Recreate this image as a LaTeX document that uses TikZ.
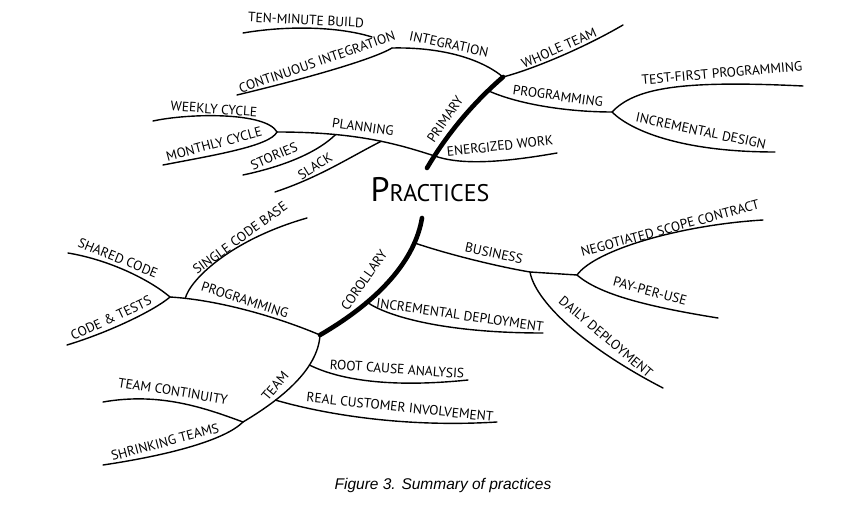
\documentclass[tikz,border=0pt]{standalone}
\usepackage{fontspec}
\setmainfont{PT Sans}
\newfontfamily\capfont{Liberation Sans}
\usetikzlibrary{calc}

\begin{document}
\begin{tikzpicture}[x=1pt,y=-1pt,line cap=round,font=\fontsize{13.5}{14}\selectfont,
  br/.style={line width=1.4pt},
  tr/.style={line width=4.6pt},
  l/.style={inner sep=0pt,anchor=center}]
  \useasboundingbox (0,0) rectangle (850,521);
  % primary side
  \draw[tr] (427,168) coordinate (pb) .. controls (447,134) and (473,103) .. (503,77) coordinate (pt)
    coordinate[pos=0.12] (pl0) coordinate[pos=0.12] (pe) coordinate[pos=0.83] (pp);
  \coordinate (ij) at (392,48);
  \coordinate (pj) at (612,112);
  \coordinate (plj) at (277,132);
  \draw[br] (pt) .. controls (480,58) and (440,47) .. (ij);
  \draw[br] (ij) .. controls (372,60) and (300,80) .. (237,95) coordinate (ci);
  \draw[br] (243,33) coordinate (tm1) .. controls (290,25) and (340,27) .. (372,37) coordinate (tm2);
  \draw[br] (pt) .. controls (530,70) and (580,50) .. (623,25) coordinate (wt);
  \draw[br] (pp) .. controls (520,105) and (570,112) .. (pj);
  \draw[br] (pj) .. controls (635,88) and (680,80) .. (803,86) coordinate (tf);
  \draw[br] (pj) .. controls (630,130) and (680,152) .. (775,152) coordinate (id);
  \draw[br] (pe) .. controls (460,165) and (500,163) .. (557,153) coordinate (ew);
  \draw[br] (pl0) .. controls (400,145) and (360,132) .. (plj)
    coordinate[pos=0.45] (kj) coordinate[pos=0.73] (sj);
  \draw[br] (153,121) coordinate (wc) .. controls (190,113) and (266,112) .. (plj);
  \draw[br] (plj) .. controls (270,146) and (215,155) .. (163,165) coordinate (mc);
  \draw[br] (sj) .. controls (320,150) and (290,165) .. (243,175) coordinate (st);
  \draw[br] (kj) .. controls (350,157) and (320,177) .. (275,192) coordinate (sl);
  % corollary side
  \draw[tr] (422,218) coordinate (ct) .. controls (415,260) and (380,300) .. (320,335) coordinate (cb)
    coordinate[pos=0.2] (cbz) coordinate[pos=0.7] (cid);
  \coordinate (dj) at (530,272);
  \coordinate (nsj) at (577,275);
  \coordinate (cpj) at (170,297);
  \coordinate (tj) at (243,422);
  \draw[br] (cbz) .. controls (450,255) and (500,267) .. (dj) -- (nsj);
  \draw[br] (dj) .. controls (535,300) and (580,345) .. (663,388) coordinate (dd);
  \draw[br] (nsj) .. controls (595,250) and (680,225) .. (763,220) coordinate (ns);
  \draw[br] (nsj) .. controls (600,295) and (650,307) .. (718,318) coordinate (pu);
  \draw[br] (cid) .. controls (385,315) and (440,333) .. (543,333) coordinate (ide);
  \draw[br] (cb) .. controls (280,318) and (220,300) .. (cpj) coordinate[pos=0.9] (scb);
  \draw[br] (68,253) coordinate (sc) .. controls (110,260) and (150,280) .. (cpj);
  \draw[br] (cpj) .. controls (155,310) and (110,332) .. (67,345) coordinate (ct2);
  \draw[br] (scb) .. controls (190,280) and (230,240) .. (307,218) coordinate (sb);
  \draw[br] (cb) .. controls (318,370) and (280,400) .. (tj) coordinate[pos=0.3] (rca) coordinate[pos=0.7] (rci);
  \draw[br] (rca) .. controls (340,380) and (390,388) .. (468,380) coordinate (ra);
  \draw[br] (rci) .. controls (320,413) and (400,428) .. (497,422) coordinate (rc);
  \draw[br] (103,402) coordinate (tc) .. controls (160,392) and (205,408) .. (tj);
  \draw[br] (tj) .. controls (225,440) and (170,455) .. (103,465) coordinate (sh);
  % labels
  \node[l,rotate=56] (prim) at (445,119) {PRIMARY};
  \node[l,rotate=-12] (integ) at (449,44) {INTEGRATION};
  \node[l,rotate=19] (cint) at (317,62) {CONTINUOUS INTEGRATION};
  \node[l,rotate=-3] (tmb) at (306,20) {TEN-MINUTE BUILD};
  \node[l,rotate=24] (whole) at (559,48) {WHOLE TEAM};
  \node[l,rotate=-8] (prog1) at (558,96) {PROGRAMMING};
  \node[l,rotate=5] (tfp) at (722,73) {TEST-FIRST PROGRAMMING};
  \node[l,rotate=-12] (incd) at (701,131) {INCREMENTAL DESIGN};
  \node[l,rotate=6] (enw) at (500,146) {ENERGIZED WORK};
  \node[l,rotate=-8] (plan) at (363,127) {PLANNING};
  \node[l,rotate=-4] (week) at (214,109) {WEEKLY CYCLE};
  \node[l,rotate=15] (month) at (214,144) {MONTHLY CYCLE};
  \node[l,rotate=23] (stor) at (274,156) {STORIES};
  \node[l,rotate=32] (slack) at (315,166) {SLACK};
  \node[l] (prac) at (430,190) {{\fontsize{34}{34}\selectfont P}{\fontsize{24}{24}\selectfont RACTICES}};
  \node[l,rotate=55] (coro) at (364,280) {COROLLARY};
  \node[l,rotate=-12] (bus) at (494,253) {BUSINESS};
  \node[l,rotate=15] (nsc) at (670,228) {NEGOTIATED SCOPE CONTRACT};
  \node[l,rotate=-15] (ppu) at (650,291) {PAY-PER-USE};
  \node[l,rotate=-40] (daily) at (606,337) {DAILY DEPLOYMENT};
  \node[l,rotate=-8] (incdep) at (460,315) {INCREMENTAL DEPLOYMENT};
  \node[l,rotate=-18] (prog2) at (245,300) {PROGRAMMING};
  \node[l,rotate=-22] (shc) at (118,258) {SHARED CODE};
  \node[l,rotate=25] (cnt) at (111,318) {CODE \& TESTS};
  \node[l,rotate=36] (scbase) at (240,238) {SINGLE CODE BASE};
  \node[l,rotate=50] (team) at (275,386) {TEAM};
  \node[l,rotate=-4] (rcan) at (397,369) {ROOT CAUSE ANALYSIS};
  \node[l,rotate=-6] (rcin) at (400,407) {REAL CUSTOMER INVOLVEMENT};
  \node[l,rotate=-9] (tcon) at (173,391) {TEAM CONTINUITY};
  \node[l,rotate=15] (shr) at (165,442) {SHRINKING TEAMS};
  \node[l,font=\capfont\itshape\fontsize{15.5}{17}\selectfont] (cap) at (443,485) {Figure 3. Summary of practices};
\end{tikzpicture}
\end{document}
